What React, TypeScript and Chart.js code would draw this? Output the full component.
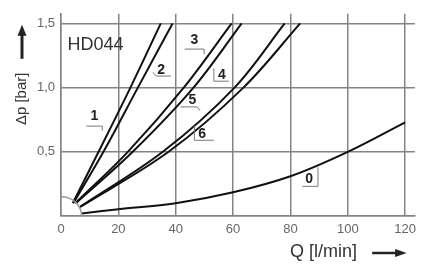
import React, { useEffect, useRef } from "react";
import { Chart, registerables } from "chart.js";

Chart.register(...registerables);

// X ticks (Q in l/min) and Y ticks (Δp in bar)
const xTicks = [0, 20, 40, 60, 80, 100, 120];
const yTicks = [0, 0.5, 1.0, 1.5];

// Curve 0
const q0 = [7.2, 20, 40, 60, 80, 100, 120];
const dp0 = [0.02, 0.052, 0.1, 0.185, 0.31, 0.5, 0.73];
// Curve 1
const q1 = [4.1, 13.1, 24.2, 34.8];
const dp1 = [0.1, 0.5, 1.0, 1.5];
// Curve 2
const q2 = [4.3, 14.8, 26.8, 38.9];
const dp2 = [0.1, 0.5, 1.0, 1.5];
// Curve 3
const q3 = [5.0, 23.3, 42.8, 59.5];
const dp3 = [0.1, 0.5, 1.0, 1.5];
// Curve 4
const q4 = [5.2, 25.0, 46.2, 63.0];
const dp4 = [0.1, 0.5, 1.0, 1.5];
// Curve 5
const q5 = [6.5, 35.5, 60.5, 78.0];
const dp5 = [0.07, 0.5, 1.0, 1.5];
// Curve 6
const q6 = [6.7, 37.5, 63.6, 83.4];
const dp6 = [0.07, 0.5, 1.0, 1.5];

const curveNames = ["0", "1", "2", "3", "4", "5", "6"];
const curveQ = [q0, q1, q2, q3, q4, q5, q6];
const curveDp = [dp0, dp1, dp2, dp3, dp4, dp5, dp6];

// Curve labels: text anchor (Q, Δp) and leader polyline in data units
const labelText = ["1", "2", "3", "4", "5", "6", "0"];
const labelAt = [
  [11.6, 0.78],
  [34.9, 1.14],
  [46.5, 1.37],
  [56.1, 1.1],
  [45.8, 0.9],
  [49.2, 0.64],
  [86.5, 0.284],
];
const labelLeaders = [
  [[8.9, 0.7], [14.4, 0.7], [14.4, 0.665]],
  [[32.1, 1.12], [33.2, 1.09], [38.3, 1.09]],
  [[43.1, 1.3], [49.9, 1.3], [49.9, 1.26]],
  [[53.3, 1.15], [53.3, 1.05], [58.5, 1.05]],
  [[41.7, 0.85], [47.5, 0.85], [48.5, 0.82]],
  [[46.5, 0.7], [46.5, 0.59], [53.3, 0.59]],
  [[84.1, 0.231], [89.6, 0.231], [89.6, 0.38]],
];

const chartTitle = "HD044";
const xTitle = "Q [l/min]";
const yTitle = "Δp [bar]";

const FONT = "'Liberation Sans', Arial, sans-serif";

const decorPlugin = {
  id: "decor",
  afterDatasetsDraw(chart: any) {
    const { ctx, chartArea } = chart;
    const xs = chart.scales.x;
    const ys = chart.scales.y;
    const px = (v: number) => xs.getPixelForValue(v);
    const py = (v: number) => ys.getPixelForValue(v);
    ctx.save();

    // quarter arc at origin
    const rx = px(7.2) - px(0);
    const ry = py(0) - py(0.15);
    ctx.beginPath();
    ctx.strokeStyle = "#9a9a9a";
    ctx.lineWidth = 1.5;
    ctx.ellipse(px(0), py(0), rx, ry, 0, -Math.PI / 2, 0);
    ctx.stroke();

    // leaders
    ctx.strokeStyle = "#777";
    ctx.lineWidth = 1;
    labelLeaders.forEach((pts) => {
      ctx.beginPath();
      pts.forEach((p, i) => {
        const x = px(p[0]);
        const y = py(p[1]);
        if (i === 0) ctx.moveTo(x, y);
        else ctx.lineTo(x, y);
      });
      ctx.stroke();
    });
    // label texts
    ctx.fillStyle = "#222";
    ctx.font = `bold 14px ${FONT}`;
    ctx.textAlign = "center";
    ctx.textBaseline = "middle";
    labelText.forEach((t, i) => {
      ctx.fillText(t, px(labelAt[i][0]), py(labelAt[i][1]));
    });

    // chart title
    ctx.font = `18px ${FONT}`;
    ctx.fillStyle = "#333";
    ctx.textAlign = "left";
    ctx.fillText(chartTitle, px(2.3), py(1.33));

    // y title rotated + arrow up
    const yx = chartArea.left - 39;
    ctx.save();
    ctx.translate(yx, chartArea.top + 85);
    ctx.rotate(-Math.PI / 2);
    ctx.font = `15px ${FONT}`;
    ctx.textAlign = "center";
    ctx.textBaseline = "middle";
    ctx.fillText(yTitle, 0, 0);
    ctx.restore();

    ctx.strokeStyle = "#222";
    ctx.fillStyle = "#222";
    ctx.lineWidth = 3;
    ctx.beginPath();
    ctx.moveTo(yx, chartArea.top + 45);
    ctx.lineTo(yx, chartArea.top + 20);
    ctx.stroke();
    ctx.beginPath();
    ctx.moveTo(yx, chartArea.top + 11);
    ctx.lineTo(yx - 4.5, chartArea.top + 22);
    ctx.lineTo(yx + 4.5, chartArea.top + 22);
    ctx.closePath();
    ctx.fill();

    // x title + arrow right
    const ty = chartArea.bottom + 36;
    ctx.font = `18px ${FONT}`;
    ctx.fillStyle = "#333";
    ctx.textAlign = "center";
    ctx.textBaseline = "middle";
    ctx.fillText(xTitle, px(91.5), ty);
    ctx.strokeStyle = "#222";
    ctx.fillStyle = "#222";
    ctx.lineWidth = 2.5;
    ctx.beginPath();
    ctx.moveTo(px(108.5), ty + 1);
    ctx.lineTo(px(117.5), ty + 1);
    ctx.stroke();
    ctx.beginPath();
    ctx.moveTo(px(120.5), ty + 1);
    ctx.lineTo(px(116.5), ty - 3);
    ctx.lineTo(px(116.5), ty + 5);
    ctx.closePath();
    ctx.fill();

    ctx.restore();
  },
};

export default function App() {
  const ref = useRef<HTMLCanvasElement | null>(null);
  useEffect(() => {
    if (!ref.current) return;
    const datasets = curveNames.map((name, i) => ({
      label: name,
      data: curveQ[i].map((q, j) => ({ x: q, y: curveDp[i][j] })),
      showLine: true,
      borderColor: "#111",
      borderWidth: 2,
      pointRadius: 0,
      tension: 0.35,
      fill: false,
    }));
    const chart = new Chart(ref.current, {
      type: "scatter",
      data: { datasets },
      options: {
        animation: false,
        responsive: false,
        maintainAspectRatio: false,
        layout: { padding: { top: 5, right: 0, left: 0, bottom: 0 } },
        plugins: { legend: { display: false }, tooltip: { enabled: false } },
        scales: {
          x: {
            type: "linear",
            min: 0,
            max: 123.4,
            afterBuildTicks: (s: any) => {
              s.ticks = xTicks.map((v) => ({ value: v }));
            },
            afterFit: (s: any) => {
              s.height = 53;
            },
            grid: { color: "#848484", lineWidth: 1.5, drawTicks: false },
            border: { color: "#848484", width: 1.5 },
            ticks: {
              padding: 6,
              color: "#666",
              font: { family: FONT, size: 13 },
              maxRotation: 0,
              callback: (v: any) => String(v),
            },
          },
          y: {
            type: "linear",
            min: 0,
            max: 1.575,
            afterBuildTicks: (s: any) => {
              s.ticks = yTicks.map((v) => ({ value: v }));
            },
            afterFit: (s: any) => {
              s.width = 61;
            },
            grid: { color: "#848484", lineWidth: 1.5, drawTicks: false },
            border: { color: "#848484", width: 1.5 },
            ticks: {
              padding: 6,
              color: "#666",
              font: { family: FONT, size: 13 },
              callback: (v: any) =>
                v === 0 ? "" : Number(v).toFixed(1).replace(".", ","),
            },
          },
        },
      },
      plugins: [decorPlugin],
    });
    return () => chart.destroy();
  }, []);
  return (
    <div
      style={{
        position: "fixed",
        left: 0,
        top: 0,
        width: 422,
        height: 269,
        background: "#fff",
      }}
    >
      <canvas ref={ref} width={422} height={269} />
    </div>
  );
}
